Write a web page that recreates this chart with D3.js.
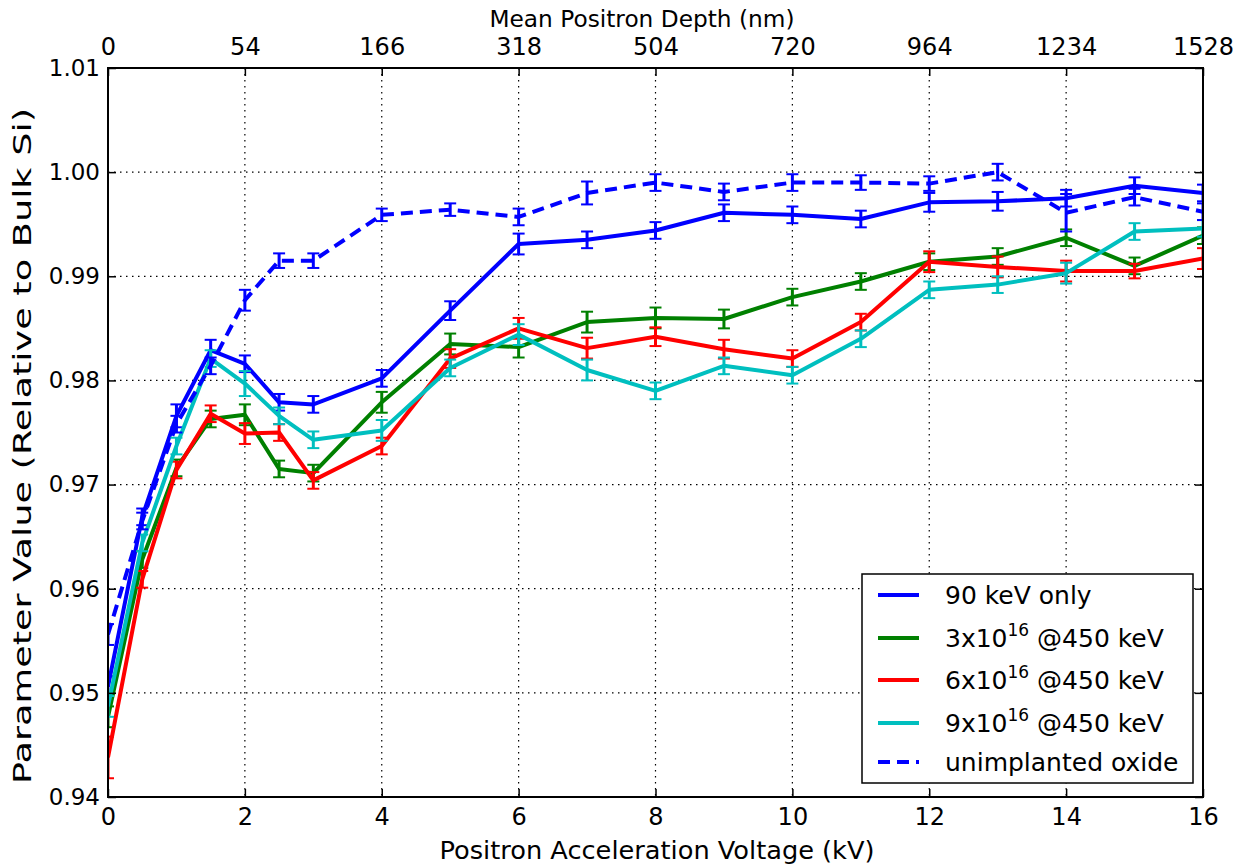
<!DOCTYPE html>
<html>
<head>
<meta charset="utf-8">
<script src="https://d3js.org/d3.v7.min.js"></script>
<style>
  body { margin: 0; background: #fff; }
  text { font-family: "DejaVu Sans", sans-serif; }
</style>
</head>
<body>
<svg id="chart" width="1246" height="865"></svg>
<script>
// Positron acceleration voltage (kV)
const voltages = [0, 0.5, 1, 1.5, 2, 2.5, 3, 4, 5, 6, 7, 8, 9, 10, 11, 12, 13, 14, 15, 16];

// Top axis: mean positron depth (nm) at the bottom-axis ticks
const topTicks = [0, 2, 4, 6, 8, 10, 12, 14, 16];
const depthLabels = ["0", "54", "166", "318", "504", "720", "964", "1234", "1528"];

const yTicks = [0.94, 0.95, 0.96, 0.97, 0.98, 0.99, 1.00, 1.01];

// Series values
const only90 = [0.9506, 0.9669, 0.9766, 0.9829, 0.9816, 0.9779, 0.9777, 0.9802, 0.9867, 0.9931,
                0.9935, 0.9944, 0.9961, 0.9959, 0.9955, 0.9971, 0.9972, 0.9975, 0.9987, 0.9980];
const dose3 = [0.9477, 0.9628, 0.9716, 0.9763, 0.9767, 0.9715, 0.9711, 0.9779, 0.9835, 0.9832,
               0.9856, 0.9860, 0.9859, 0.9880, 0.9895, 0.9914, 0.9919, 0.9937, 0.9910, 0.9939];
const dose6 = [0.9438, 0.9609, 0.9714, 0.9768, 0.9749, 0.9750, 0.9704, 0.9737, 0.9821, 0.9850,
               0.9831, 0.9842, 0.9830, 0.9821, 0.9856, 0.9914, 0.9909, 0.9905, 0.9905, 0.9917];
const dose9 = [0.9487, 0.9644, 0.9737, 0.9821, 0.9797, 0.9766, 0.9743, 0.9752, 0.9812, 0.9844,
               0.9810, 0.9790, 0.9814, 0.9805, 0.9840, 0.9887, 0.9892, 0.9903, 0.9943, 0.9946];
const oxide = [0.9556, 0.9665, 0.9758, 0.9814, 0.9877, 0.9915, 0.9915, 0.9959, 0.9964, 0.9957,
               0.9980, 0.9990, 0.9981, 0.9990, 0.9990, 0.9989, 1.0000, 0.9961, 0.9976, 0.9962];

// Error bar half-widths
const only90Err = [0.0010, 0.0008, 0.0011, 0.0010, 0.0008, 0.0008, 0.0008, 0.0008, 0.0009, 0.0010,
                   0.0008, 0.0008, 0.0008, 0.0008, 0.0008, 0.0009, 0.0009, 0.0008, 0.0008, 0.0008];
const dose3Err = [0.0010, 0.0008, 0.0008, 0.0008, 0.0010, 0.0008, 0.0008, 0.0010, 0.0010, 0.0010,
                  0.0010, 0.0010, 0.0009, 0.0008, 0.0008, 0.0008, 0.0008, 0.0008, 0.0008, 0.0008];
const dose6Err = [0.0020, 0.0008, 0.0008, 0.0008, 0.0010, 0.0008, 0.0008, 0.0008, 0.0009, 0.0010,
                  0.0010, 0.0009, 0.0009, 0.0008, 0.0008, 0.0010, 0.0010, 0.0010, 0.0007, 0.0010];
const dose9Err = [0.0010, 0.0008, 0.0008, 0.0008, 0.0012, 0.0008, 0.0008, 0.0010, 0.0008, 0.0010,
                  0.0010, 0.0008, 0.0008, 0.0008, 0.0008, 0.0008, 0.0008, 0.0010, 0.0008, 0.0008];
const oxideErr = [0.0010, 0.0008, 0.0008, 0.0008, 0.0010, 0.0007, 0.0007, 0.0006, 0.0006, 0.0008,
                  0.0011, 0.0008, 0.0008, 0.0008, 0.0007, 0.0007, 0.0008, 0.0018, 0.0008, 0.0008];

const seriesNames = ["90 keV only", "3x10", "6x10", "9x10", "unimplanted oxide"];
const seriesColors = ["#0000ff", "#008000", "#ff0000", "#00bfbf", "#0000ff"];

const series = [
  { name: seriesNames[0], values: only90, err: only90Err, color: seriesColors[0], dashed: false },
  { name: seriesNames[1], values: dose3, err: dose3Err, color: seriesColors[1], dashed: false, sup: "16", tail: " @450 keV" },
  { name: seriesNames[2], values: dose6, err: dose6Err, color: seriesColors[2], dashed: false, sup: "16", tail: " @450 keV" },
  { name: seriesNames[3], values: dose9, err: dose9Err, color: seriesColors[3], dashed: false, sup: "16", tail: " @450 keV" },
  { name: seriesNames[4], values: oxide, err: oxideErr, color: seriesColors[4], dashed: true }
];

const plotLeft = 108, plotRight = 1203, plotTop = 68, plotBottom = 797;

const svg = d3.select("#chart");

const x = d3.scaleLinear().domain([0, 16]).range([plotLeft, plotRight]);
const y = d3.scaleLinear().domain([0.94, 1.01]).range([plotBottom, plotTop]);

// Grid
const grid = svg.append("g").attr("stroke", "#000").attr("stroke-width", 1.2)
    .attr("stroke-dasharray", "1.5,4.5");

grid.selectAll(".vgrid")
    .data(topTicks.slice(1, -1))
  .enter().append("line")
    .attr("x1", d => x(d)).attr("x2", d => x(d))
    .attr("y1", plotTop).attr("y2", plotBottom);

grid.selectAll(".hgrid")
    .data(yTicks.slice(1, -1))
  .enter().append("line")
    .attr("x1", plotLeft).attr("x2", plotRight)
    .attr("y1", d => y(d)).attr("y2", d => y(d));

// Clip path for data
svg.append("clipPath").attr("id", "clip")
  .append("rect")
    .attr("x", plotLeft).attr("y", plotTop)
    .attr("width", plotRight - plotLeft).attr("height", plotBottom - plotTop);

const plot = svg.append("g").attr("clip-path", "url(#clip)");

const line = d3.line()
    .x((d, i) => x(voltages[i]))
    .y(d => y(d));

series.forEach(s => {
  const g = plot.append("g");

  g.append("path")
      .datum(s.values)
      .attr("d", line)
      .attr("fill", "none")
      .attr("stroke", s.color)
      .attr("stroke-width", 4)
      .attr("stroke-linejoin", "round")
      .attr("stroke-dasharray", s.dashed ? "12,7" : null);

  const bars = g.selectAll(".err")
      .data(s.values.map((v, i) => ({ x: voltages[i], v: v, e: s.err[i] })))
    .enter().append("g")
      .attr("stroke", s.color);

  bars.append("line")
      .attr("x1", d => x(d.x)).attr("x2", d => x(d.x))
      .attr("y1", d => y(d.v - d.e)).attr("y2", d => y(d.v + d.e))
      .attr("stroke-width", 3);

  [-1, 1].forEach(sign => {
    bars.append("line")
        .attr("x1", d => x(d.x) - 6).attr("x2", d => x(d.x) + 6)
        .attr("y1", d => y(d.v + sign * d.e)).attr("y2", d => y(d.v + sign * d.e))
        .attr("stroke-width", 2);
  });
});

// Axes with inward ticks
const tickLen = 8;

const bottomAxis = svg.append("g")
    .attr("transform", "translate(0," + plotBottom + ")")
    .call(d3.axisBottom(x).tickValues(topTicks).tickSizeInner(-tickLen).tickSizeOuter(0).tickPadding(11));
bottomAxis.selectAll("text").style("font-size", "24px").attr("dy", "0.71em");

const topAxis = svg.append("g")
    .attr("transform", "translate(0," + plotTop + ")")
    .call(d3.axisTop(x).tickValues(topTicks).tickSizeInner(-tickLen).tickSizeOuter(0).tickPadding(13)
      .tickFormat((d, i) => depthLabels[i]));
topAxis.selectAll("text").style("font-size", "24px");

const leftAxis = svg.append("g")
    .attr("transform", "translate(" + plotLeft + ",0)")
    .call(d3.axisLeft(y).tickValues(yTicks).tickSizeInner(-tickLen).tickSizeOuter(0).tickPadding(8)
      .tickFormat(d3.format(".2f")));
leftAxis.selectAll("text").style("font-size", "23px");

const rightAxis = svg.append("g")
    .attr("transform", "translate(" + plotRight + ",0)")
    .call(d3.axisRight(y).tickValues(yTicks).tickSizeInner(-tickLen).tickSizeOuter(0).tickFormat(""));

[bottomAxis, topAxis, leftAxis, rightAxis].forEach(a => {
  a.select(".domain").remove();
  a.selectAll("line").attr("stroke-width", 1.5);
  a.selectAll("text").attr("fill", "#000").style("font-family", "DejaVu Sans, sans-serif");
});

// Frame
svg.append("rect")
    .attr("x", plotLeft).attr("y", plotTop)
    .attr("width", plotRight - plotLeft).attr("height", plotBottom - plotTop)
    .attr("fill", "none").attr("stroke", "#000").attr("stroke-width", 2);

// Axis labels
svg.append("text")
    .attr("x", 657).attr("y", 859)
    .attr("text-anchor", "middle")
    .style("font-size", "24px")
    .attr("textLength", 435).attr("lengthAdjust", "spacingAndGlyphs")
    .text("Positron Acceleration Voltage (kV)");

svg.append("text")
    .attr("x", 642).attr("y", 27)
    .attr("text-anchor", "middle")
    .style("font-size", "23px")
    .attr("textLength", 305).attr("lengthAdjust", "spacingAndGlyphs")
    .text("Mean Positron Depth (nm)");

svg.append("text")
    .attr("transform", "translate(31,446)rotate(-90)")
    .attr("text-anchor", "middle")
    .style("font-size", "24px")
    .attr("textLength", 676).attr("lengthAdjust", "spacingAndGlyphs")
    .text("Parameter Value (Relative to Bulk Si)");

// Legend
const legend = svg.append("g");
legend.append("rect")
    .attr("x", 862).attr("y", 574)
    .attr("width", 331).attr("height", 209)
    .attr("fill", "#fff").attr("stroke", "#000").attr("stroke-width", 1.5);

const legendRows = [595, 638, 680, 723, 762];

series.forEach((s, i) => {
  const ly = legendRows[i];
  legend.append("line")
      .attr("x1", 878).attr("x2", 919)
      .attr("y1", ly).attr("y2", ly)
      .attr("stroke", s.color).attr("stroke-width", 4)
      .attr("stroke-dasharray", s.dashed ? "12,7" : null);

  const t = legend.append("text")
      .attr("x", 945).attr("y", ly + 9)
      .style("font-size", "25px");
  t.append("tspan").text(s.name);
  if (s.sup) {
    t.append("tspan").attr("dy", -11).style("font-size", "17px").text(s.sup);
    t.append("tspan").attr("dy", 11).text(s.tail);
  }
});
</script>
</body>
</html>
